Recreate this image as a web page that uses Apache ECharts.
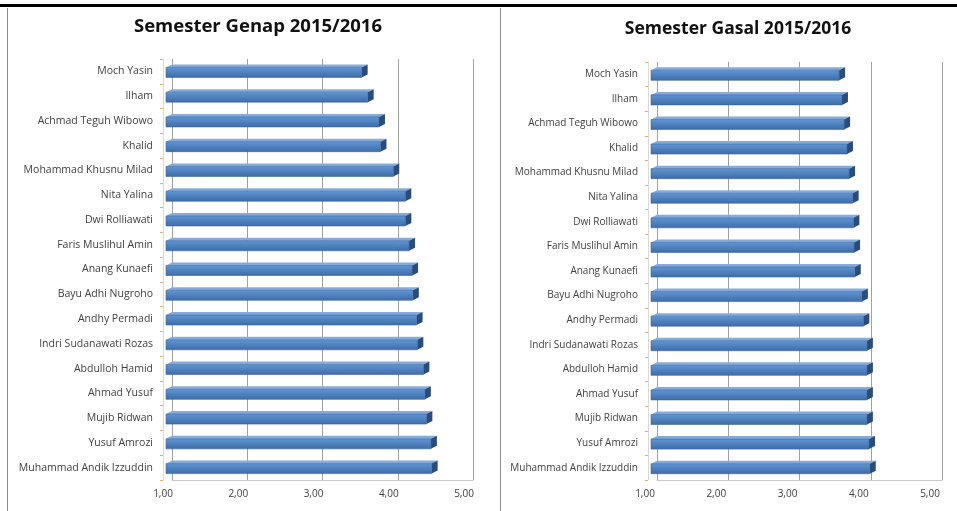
<!DOCTYPE html>
<html>
<head>
<meta charset="utf-8">
<script src="https://cdn.jsdelivr.net/npm/echarts@6/dist/echarts.min.js"></script>
<style>
  html, body { margin: 0; padding: 0; background: #fff; }
  #chart { width: 957px; height: 511px; }
</style>
</head>
<body>
<div id="chart"></div>
<script>
var names = ["Moch Yasin", "Ilham", "Achmad Teguh Wibowo", "Khalid", "Mohammad Khusnu Milad",
    "Nita Yalina", "Dwi Rolliawati", "Faris Muslihul Amin", "Anang Kunaefi", "Bayu Adhi Nugroho",
    "Andhy Permadi", "Indri Sudanawati Rozas", "Abdulloh Hamid", "Ahmad Yusuf", "Mujib Ridwan",
    "Yusuf Amrozi", "Muhammad Andik Izzuddin"];
var genap = [3.60, 3.68, 3.83, 3.85, 4.02, 4.18, 4.18, 4.23, 4.27, 4.28, 4.33, 4.34, 4.42, 4.44, 4.46, 4.52, 4.53];
var gasal = [3.64, 3.68, 3.71, 3.75, 3.78, 3.83, 3.84, 3.85, 3.86, 3.96, 3.98, 4.03, 4.03, 4.03, 4.03, 4.06, 4.07];
var titles = ["Semester Genap 2015/2016", "Semester Gasal 2015/2016"];
var axisMin = 1, axisMax = 5, axisStep = 1;

var font = "'Open Sans', 'Liberation Sans', sans-serif";
var txt = "#404040", grid = "#a0a0a0";

// 3d-ish bar: front face + top face + dark side face
function bar3d(params, api) {
    var i = api.value(1);
    var end = api.coord([api.value(0), i]);
    var start = api.coord([axisMin, i]);
    var c = end[1], dx = 6, dy = 3;
    var x0 = start[0] - dx, x1 = end[0] - dx;
    var top = c - 4, bot = c + 6;
    return {
        type: "group",
        children: [{
            type: "polygon",
            shape: {points: [[x0, top], [x0 + dx, top - dy], [x1 + dx, top - dy], [x1, top]]},
            style: {fill: "#86abdb"}
        }, {
            type: "polygon",
            shape: {points: [[x1, top], [x1 + dx, top - dy], [x1 + dx, bot - dy], [x1, bot]]},
            style: {fill: "#2b4c78"}
        }, {
            type: "rect",
            shape: {x: x0, y: top, width: x1 - x0, height: bot - top},
            style: {
                fill: new echarts.graphic.LinearGradient(0, 0, 0, 1, [
                    {offset: 0, color: "#6196d6"}, {offset: 0.5, color: "#4f81bd"}, {offset: 1, color: "#3f6ca8"}
                ]),
                stroke: "#3a649a", lineWidth: 0.6
            }
        }]
    };
}

function panel(idx, g, labelShift, axisOff, fs) {
    return {
        grid: g,
        xAxis: {
            gridIndex: idx, type: "value", min: axisMin, max: axisMax, interval: axisStep,
            axisLine: {show: true, lineStyle: {color: "#c8c8c8"}},
            axisTick: {show: false},
            splitLine: {show: true, lineStyle: {color: grid, width: 1}},
            axisLabel: {
                color: txt, fontFamily: font, fontSize: 10, margin: 9,
                padding: [0, labelShift * 2, 0, 0],
                formatter: function (v) { return v.toFixed(2).replace(".", ","); }
            }
        },
        yAxis: {
            gridIndex: idx, type: "category", data: names, inverse: true, offset: axisOff,
            axisLine: {show: true, lineStyle: {color: "#d9d9d9"}},
            axisTick: {show: true, length: 3, lineStyle: {color: "#d8b080"}},
            axisLabel: {color: txt, fontFamily: font, fontSize: fs, margin: 10}
        }
    };
}

var p1 = panel(0, {left: 172, right: 484, top: 59, height: 421}, 9, 9, 10.5);
var p2 = panel(1, {left: 657, right: 15, top: 62, height: 418}, 12, 9, 10);

var option = {
    animation: false,
    backgroundColor: "#fff",
    title: [{
        text: titles[0], left: 253, top: 12, textAlign: "center",
        textStyle: {fontFamily: font, fontSize: 18.5, fontWeight: "bold", color: "#111"}
    }, {
        text: titles[1], left: 733, top: 15, textAlign: "center",
        textStyle: {fontFamily: font, fontSize: 17.5, fontWeight: "bold", color: "#111"}
    }],
    grid: [p1.grid, p2.grid],
    xAxis: [p1.xAxis, p2.xAxis],
    yAxis: [p1.yAxis, p2.yAxis],
    series: [{
        type: "custom", xAxisIndex: 0, yAxisIndex: 0, renderItem: bar3d,
        encode: {x: 0, y: 1},
        data: genap.map(function (v, i) { return [v, i]; })
    }, {
        type: "custom", xAxisIndex: 1, yAxisIndex: 1, renderItem: bar3d,
        encode: {x: 0, y: 1},
        data: gasal.map(function (v, i) { return [v, i]; })
    }],
    graphic: [
        {type: "rect", shape: {x: 0, y: 4, width: 957, height: 3}, style: {fill: "#000"}},
        {type: "line", shape: {x1: 7.5, y1: 8, x2: 7.5, y2: 511}, style: {stroke: "#8c8c8c", lineWidth: 1}},
        {type: "line", shape: {x1: 500.5, y1: 8, x2: 500.5, y2: 511}, style: {stroke: "#8c8c8c", lineWidth: 1}}
    ]
};

echarts.init(document.getElementById("chart")).setOption(option);
</script>
</body>
</html>
